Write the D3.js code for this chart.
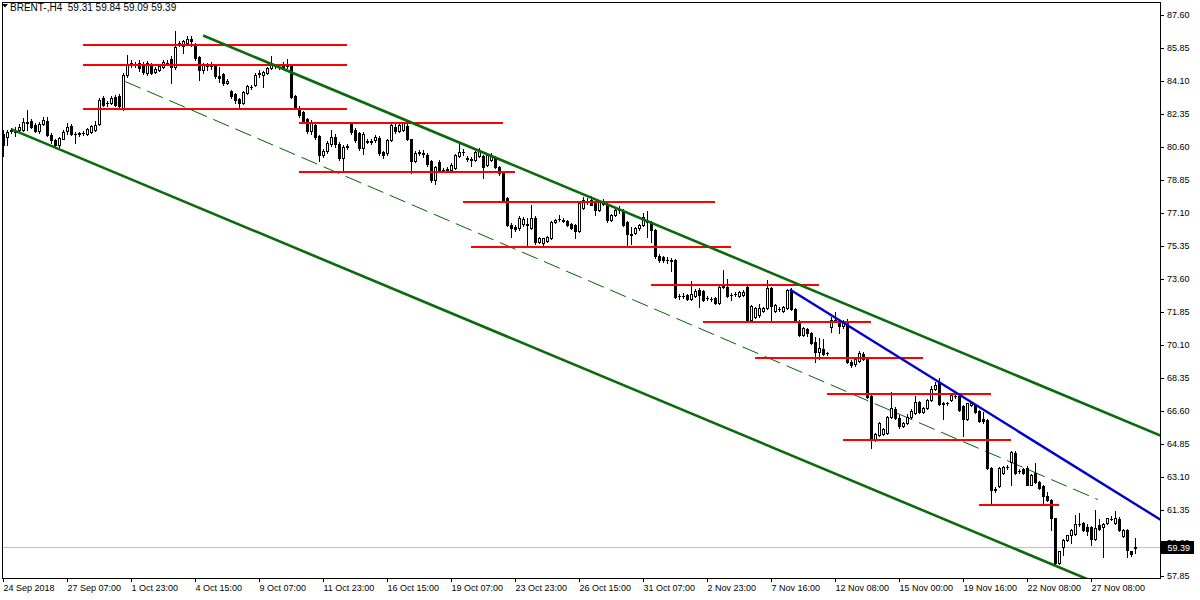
<!DOCTYPE html>
<html><head><meta charset="utf-8">
<script src="https://cdn.jsdelivr.net/npm/d3@7"></script>
<style>
html,body{margin:0;padding:0;background:#fff;}
svg{display:block;}
</style></head>
<body>
<svg id="chart" width="1200" height="600"></svg>
<script>
const symbol = "BRENT-,H4";
const lastOHLC = ["59.31", "59.84", "59.09", "59.39"];

const opens = [
81.3,81.15,81.45,81.45,81.5,81.5,81.95,82.0,81.75,81.45,
81.8,82.0,81.25,80.95,80.7,81.05,81.45,81.7,81.3,81.3,
81.33,81.3,81.4,81.5,81.8,83.2,82.93,82.95,83.25,83.3,
82.65,84.4,85.02,85.0,85.05,84.95,84.5,84.95,84.6,84.7,
84.85,85.03,85.25,84.85,86.08,85.95,86.1,86.35,86.05,85.35,
84.7,84.95,84.9,84.9,84.35,84.45,84.0,83.55,83.4,83.15,
82.95,83.45,83.8,83.9,84.45,84.4,84.5,84.8,84.9,84.85,
85.0,84.9,84.9,83.3,82.67,82.45,82.1,81.45,81.75,81.2,
80.15,80.4,80.75,81.15,80.75,80.0,80.6,81.85,81.5,81.35,
80.55,80.9,80.85,80.95,81.1,80.35,80.3,80.95,81.65,81.45,
81.5,81.7,81.0,79.85,80.3,80.3,80.2,79.85,78.85,79.8,
79.35,79.4,79.4,79.5,80.1,80.35,80.0,79.95,79.9,80.1,
80.1,79.65,79.9,80.0,79.55,79.2,77.9,76.45,76.35,76.3,
76.5,76.5,76.3,76.85,75.55,75.5,75.6,75.75,76.6,76.8,
76.75,76.7,76.5,76.45,76.15,77.35,77.75,77.8,77.7,77.25,
77.6,77.6,76.75,77.0,77.25,77.2,76.6,76.0,76.05,76.3,
76.45,76.65,76.6,76.2,74.8,74.75,74.6,74.55,74.6,72.7,
72.7,72.75,72.55,72.7,73.0,72.95,72.6,72.55,72.6,72.35,
73.2,73.2,72.75,72.8,72.7,72.75,73.2,71.4,71.6,71.7,
71.9,72.05,73.1,71.9,72.0,71.9,72.05,73.0,72.0,71.35,
70.65,70.95,70.75,70.25,69.75,69.9,69.65,71.05,71.45,71.35,
71.1,71.3,69.2,69.1,69.25,69.6,69.35,67.4,65.1,65.35,
65.4,65.45,66.3,66.7,66.25,65.8,65.95,66.3,66.5,67.1,
66.55,66.75,67.2,67.75,68.1,66.95,67.0,67.2,67.4,67.4,
66.85,66.15,66.9,66.9,66.6,66.2,66.1,63.6,62.4,62.6,
63.3,63.65,63.9,64.35,63.4,63.55,63.6,62.7,63.3,62.85,
62.6,62.1,61.9,60.9,58.55,59.4,59.75,60.0,60.1,60.6,
60.65,60.45,60.45,59.8,60.55,60.45,60.65,60.85,60.65,60.85,
59.95,60.3,59.15,59.31];

const highs = [
81.5,81.5,81.6,81.65,81.8,82.14,82.56,82.1,81.85,81.95,
82.2,82.2,81.35,81.0,81.15,81.5,81.85,81.8,81.4,81.4,
81.45,81.6,81.75,82.0,83.2,83.3,83.05,83.3,83.35,83.4,
84.52,85.48,85.2,85.1,85.2,85.1,85.15,85.05,84.85,85.0,
85.2,85.2,85.4,86.77,86.2,86.3,86.5,86.5,86.1,85.4,
85.05,85.05,85.1,85.0,84.85,84.5,84.2,83.6,83.45,83.2,
83.55,83.9,83.9,84.5,84.7,84.65,84.85,85.45,85.0,84.95,
85.1,85.25,85.0,83.35,82.75,82.5,82.15,82.05,81.85,81.25,
80.5,80.9,81.5,81.3,80.85,80.7,80.75,81.95,81.6,81.4,
81.4,81.0,81.0,81.25,81.2,80.4,81.0,81.85,81.8,81.85,
81.95,81.9,81.05,80.4,80.45,80.45,80.3,79.9,79.6,79.9,
79.5,79.55,79.75,80.25,80.8,80.5,80.1,80.05,80.4,80.55,
80.2,80.25,80.3,80.1,79.6,79.25,77.95,76.55,76.45,76.95,
76.9,76.85,77.55,76.95,75.85,75.8,75.9,76.65,76.8,77.0,
76.85,76.75,76.55,76.5,77.7,77.95,77.9,78.0,77.75,77.75,
77.85,77.65,77.05,77.3,77.45,77.3,76.65,76.35,76.35,76.5,
77.1,77.2,76.7,76.25,74.9,74.8,74.75,74.7,74.65,72.8,
72.85,72.8,73.5,73.05,73.1,73.0,72.7,72.65,72.65,73.25,
74.1,73.6,72.85,72.9,72.95,73.0,73.3,72.2,72.1,72.25,
72.1,73.55,73.2,72.25,72.1,72.15,73.05,73.1,72.05,71.4,
71.05,71.0,70.8,70.55,70.45,70.4,69.75,71.6,71.85,71.45,
71.4,71.5,69.3,69.4,69.8,69.75,69.4,67.45,65.45,66.0,
65.7,66.35,67.6,66.8,66.4,66.0,66.45,66.7,67.4,67.15,
66.8,67.25,67.9,68.15,68.35,67.1,67.1,67.55,67.55,67.45,
66.9,67.05,67.1,66.95,66.65,66.55,66.15,63.65,62.55,63.65,
63.7,63.75,64.5,64.5,63.55,63.6,63.7,63.25,63.85,62.9,
62.65,62.3,61.95,60.95,59.2,59.8,60.05,60.35,61.1,61.2,
60.7,60.6,60.5,61.35,60.85,60.65,60.95,61.05,61.3,61.0,
60.35,60.35,59.2,59.84];

const lows = [
80.1,80.7,81.35,81.2,81.4,81.45,81.5,81.6,81.4,81.35,
81.75,81.2,80.8,80.55,80.6,81.0,81.3,81.25,80.8,81.2,
81.25,81.25,81.35,81.45,81.75,82.75,82.8,82.9,82.75,82.6,
82.56,84.3,84.85,84.85,84.65,84.45,84.4,84.45,84.5,84.65,
84.8,84.95,84.01,84.75,85.95,85.6,86.0,85.95,85.2,84.15,
84.55,84.7,84.75,84.25,84.05,83.9,83.95,83.2,82.95,82.7,
82.9,83.4,83.7,83.85,84.3,83.8,84.45,84.75,84.8,84.75,
84.75,84.8,83.2,82.6,82.2,81.9,81.35,81.3,81.05,79.85,
80.05,80.3,80.65,80.6,79.9,79.35,80.5,81.3,80.85,80.45,
80.25,80.8,80.75,80.85,80.2,80.0,80.2,80.9,81.35,81.4,
81.45,80.95,79.2,79.8,80.2,80.05,79.6,78.75,78.65,79.25,
79.25,79.3,79.35,79.45,80.05,80.2,79.85,79.6,79.85,80.05,
78.95,79.6,79.85,79.5,79.1,77.7,76.4,75.85,76.15,76.2,
76.4,75.4,76.25,75.45,75.5,75.3,75.55,75.7,76.55,76.7,
76.6,76.4,76.25,75.75,76.1,77.3,77.6,77.5,77.0,77.2,
77.5,76.6,76.7,76.95,77.1,76.4,75.4,75.45,76.0,76.2,
76.4,75.85,75.55,74.7,74.5,74.5,74.45,74.0,72.6,72.55,
72.6,72.5,72.5,72.65,72.1,72.45,72.5,72.45,72.3,72.3,
73.1,72.65,72.5,72.7,72.65,72.7,71.3,71.35,71.55,71.6,
71.85,72.0,71.45,71.85,71.9,71.85,72.0,71.95,71.3,70.6,
70.6,70.6,70.15,69.2,69.35,69.55,69.55,70.8,71.35,70.75,
71.0,69.15,68.95,69.0,69.2,69.3,67.3,64.65,65.0,65.3,
65.35,65.4,66.25,66.2,65.7,65.75,65.9,66.25,66.45,66.5,
66.5,66.7,67.15,67.7,66.9,66.15,66.9,67.15,67.3,66.6,
65.25,66.1,66.85,66.5,66.0,65.95,63.5,61.7,62.3,62.55,
63.25,63.55,62.7,63.25,63.3,63.25,62.65,62.65,62.8,62.45,
61.6,61.85,60.3,58.45,58.5,58.95,59.7,59.6,60.05,60.5,
60.25,60.0,59.5,59.75,60.3,58.85,60.6,60.8,60.6,60.25,
59.9,58.85,58.9,59.09];

const closes = [
80.7,81.4,81.5,81.4,81.68,81.95,81.85,81.68,81.45,81.8,
82.05,81.25,80.95,80.7,81.1,81.4,81.65,81.3,81.28,81.32,
81.35,81.55,81.7,81.78,83.1,82.85,82.95,83.2,82.85,82.75,
84.4,85.0,85.04,84.98,84.78,84.6,85.05,84.55,84.75,84.9,
85.1,85.05,84.85,85.92,86.1,86.2,86.35,86.2,85.3,84.7,
84.95,84.9,84.95,84.35,84.25,84.0,84.1,83.3,83.1,82.95,
83.5,83.85,83.8,84.4,84.5,84.6,84.8,84.95,84.9,84.85,
84.8,84.9,83.27,82.67,82.3,81.95,81.45,81.95,81.15,80.15,
80.4,80.8,81.15,80.75,80.0,80.6,80.65,81.4,80.95,80.55,
81.3,80.85,80.9,81.15,80.3,80.2,80.95,81.75,81.45,81.75,
81.85,81.0,79.85,80.3,80.35,80.25,79.7,78.85,79.55,79.35,
79.4,79.45,79.65,80.2,80.35,80.35,79.95,79.9,80.35,80.45,
79.55,80.2,80.2,79.55,79.2,77.8,76.45,76.3,76.25,76.85,
76.8,76.45,76.85,75.55,75.8,75.75,75.85,76.6,76.75,76.8,
76.7,76.45,76.3,76.15,77.65,77.8,77.75,77.55,77.25,77.7,
77.75,76.75,77.0,77.25,77.25,76.45,76.0,75.95,76.3,76.45,
76.9,76.6,76.2,74.8,74.6,74.6,74.6,74.6,72.65,72.7,
72.7,72.55,72.8,72.95,72.75,72.5,72.6,72.55,72.35,73.2,
73.25,72.7,72.75,72.8,72.9,72.9,71.35,72.15,72.05,72.05,
72.05,73.1,72.15,72.2,72.0,72.1,73.0,72.0,71.35,70.65,
71.0,70.75,70.2,69.75,69.95,69.6,69.65,71.45,71.45,71.1,
71.3,69.2,69.05,69.35,69.7,69.35,67.35,65.05,65.4,65.95,
65.65,66.3,66.75,66.25,65.8,65.95,66.3,66.6,67.1,66.55,
66.75,67.2,67.75,68.0,66.95,67.0,67.0,67.45,67.4,66.65,
66.15,67.0,67.05,66.55,66.05,66.05,63.6,62.4,62.45,63.6,
63.65,63.65,64.4,63.3,63.42,63.3,62.7,63.2,62.85,62.5,
62.1,61.9,60.9,58.55,59.15,59.75,60.0,60.3,60.6,60.6,
60.3,60.25,59.8,60.4,60.35,60.6,60.9,60.85,60.9,60.3,
60.3,59.25,59.0,59.39];

const priceTicks = [87.60, 85.85, 84.10, 82.35, 80.60, 78.85, 77.10, 75.35, 73.60, 71.85,
                    70.10, 68.35, 66.60, 64.85, 63.10, 61.35, 59.60, 57.85];
const dateLabelBars = [0, 16, 32, 48, 64, 80, 96, 112, 128, 144, 160, 176, 192, 208, 224, 240, 256, 272];
const dateLabels = ["24 Sep 2018", "27 Sep 07:00", "1 Oct 23:00", "4 Oct 15:00", "9 Oct 07:00",
  "11 Oct 23:00", "16 Oct 15:00", "19 Oct 07:00", "23 Oct 23:00", "26 Oct 15:00", "31 Oct 07:00",
  "2 Nov 23:00", "7 Nov 16:00", "12 Nov 08:00", "15 Nov 00:00", "19 Nov 16:00", "22 Nov 08:00", "27 Nov 08:00"];

// horizontal support / resistance levels (price) and their bar spans
const levelPrices = [86.01, 84.96, 82.62, 81.85, 79.27, 77.70, 75.31, 73.28, 71.34, 69.43, 67.52, 65.08, 61.63];
const levelStartBars = [19.9, 19.9, 19.9, 73.9, 73.9, 114.9, 116.9, 162.1, 174.9, 188.1, 205.9, 209.9, 243.9];
const levelEndBars = [86.1, 86.1, 86.1, 124.9, 128.1, 178.1, 182.1, 204.1, 217.1, 230.1, 247.1, 252.1, 264.1];

// trend lines: [barIndex, price]
const channelUpper = [[49.9, 86.54], [289.25, 65.32]];
const channelLower = [[2.05, 81.56], [289.25, 56.09]];
const channelMid = [[30.4, 84.10], [273.6, 61.93]];
const blueTrend = [[196.6, 73.07], [289.25, 60.86]];
const currentPrice = 59.39;

const svg = d3.select("#chart");
const W = 1200, H = 600;
const plot = {left: 2, top: 2, right: 1160, bottom: 578};

const x = d3.scaleLinear().domain([0, 283]).range([3, 1135]);
const y = d3.scaleLinear().domain([57.85, 87.60]).range([576, 15]);
const py = v => Math.round(y(v));

svg.append("rect").attr("width", W).attr("height", H).attr("fill", "#fff");

svg.append("defs").append("clipPath").attr("id", "clip")
  .append("rect").attr("x", plot.left + 1).attr("y", plot.top + 1)
  .attr("width", plot.right - plot.left - 1).attr("height", plot.bottom - plot.top - 1);

const g = svg.append("g").attr("clip-path", "url(#clip)");

// current price line
g.append("line")
  .attr("x1", plot.left).attr("x2", plot.right)
  .attr("y1", py(currentPrice) + 0.5).attr("y2", py(currentPrice) + 0.5)
  .attr("stroke", "#c0c0c0").attr("stroke-width", 1).attr("shape-rendering", "crispEdges");

const line = d3.line().x(d => x(d[0]) + 0.5).y(d => y(d[1]) + 0.5);

// dashed middle line
g.append("path").datum(channelMid).attr("d", line)
  .attr("fill", "none").attr("stroke", "#006400").attr("stroke-width", 1)
  .attr("stroke-dasharray", "17,7");

// candles
const bars = d3.range(opens.length).map(i => ({i, o: opens[i], h: highs[i], l: lows[i], c: closes[i]}));
const cg = g.append("g").attr("shape-rendering", "crispEdges");
bars.forEach(b => {
  const cx = Math.round(x(b.i));
  const yh = py(b.h), yl = py(b.l);
  cg.append("line").attr("x1", cx + 0.5).attr("x2", cx + 0.5)
    .attr("y1", yh).attr("y2", yl + 1).attr("stroke", "#000").attr("stroke-width", 1);
  const top = py(Math.max(b.o, b.c)), bot = py(Math.min(b.o, b.c));
  if (bot - top <= 1) {
    cg.append("rect").attr("x", cx - 1).attr("y", top).attr("width", 3).attr("height", Math.max(1, bot - top + (bot > top ? 1 : 0)))
      .attr("fill", "#000");
  } else if (b.c < b.o) {
    cg.append("rect").attr("x", cx - 1).attr("y", top).attr("width", 3).attr("height", bot - top + 1)
      .attr("fill", "#000");
  } else {
    cg.append("rect").attr("x", cx - 0.5).attr("y", top + 0.5).attr("width", 2).attr("height", bot - top)
      .attr("fill", "#fff").attr("stroke", "#000").attr("stroke-width", 1);
  }
});

// red levels
levelPrices.forEach((p, k) => {
  g.append("rect")
    .attr("x", Math.round(x(levelStartBars[k])))
    .attr("y", py(p) - 1)
    .attr("width", Math.round(x(levelEndBars[k])) - Math.round(x(levelStartBars[k])))
    .attr("height", 2)
    .attr("fill", "#ff0000").attr("shape-rendering", "crispEdges");
});

// channel lines
[channelUpper, channelLower].forEach(seg => {
  g.append("path").datum(seg).attr("d", line)
    .attr("fill", "none").attr("stroke", "#0b6a0b").attr("stroke-width", 2.6);
});
g.append("path").datum(blueTrend).attr("d", line)
  .attr("fill", "none").attr("stroke", "#0000cd").attr("stroke-width", 2.4);

// frame
svg.append("rect").attr("x", plot.left + 0.5).attr("y", plot.top + 0.5)
  .attr("width", plot.right - plot.left).attr("height", plot.bottom - plot.top)
  .attr("fill", "none").attr("stroke", "#000").attr("stroke-width", 1).attr("shape-rendering", "crispEdges");

const fontFam = "'Liberation Sans', Arial, sans-serif";

// right price axis
const yAxis = d3.axisRight(y).tickValues(priceTicks).tickSize(4).tickPadding(3).tickFormat(d3.format(".2f"));
const ya = svg.append("g").attr("transform", `translate(${plot.right},0)`).call(yAxis);
ya.select(".domain").remove();
ya.selectAll("line").attr("stroke", "#000").attr("shape-rendering", "crispEdges");
ya.selectAll("text").attr("font-family", fontFam).attr("font-size", "9px").attr("fill", "#000");

// bottom date axis
const xAxis = d3.axisBottom(x).tickValues(dateLabelBars).tickSize(4).tickFormat((d, i) => dateLabels[i]);
const xa = svg.append("g").attr("transform", `translate(0,${plot.bottom})`).call(xAxis);
xa.select(".domain").remove();
xa.selectAll("line").attr("stroke", "#000").attr("shape-rendering", "crispEdges");
xa.selectAll("text").attr("font-family", fontFam).attr("font-size", "9px").attr("fill", "#000")
  .attr("text-anchor", "start").attr("x", 0).attr("y", 7);

// current price label box
const cpy = py(currentPrice);
svg.append("rect").attr("x", plot.right + 1).attr("y", cpy - 6).attr("width", 33).attr("height", 13)
  .attr("fill", "#000");
svg.append("text").attr("x", plot.right + 7.5).attr("y", cpy + 0.5).attr("dy", "0.35em")
  .attr("font-family", fontFam).attr("font-size", "9px").attr("fill", "#fff").text(currentPrice.toFixed(2));

// header
svg.append("path").attr("d", "M2,4 L8,4 L5,7.5 Z").attr("fill", "#000");
svg.append("text").attr("x", 10).attr("y", 11)
  .attr("font-family", fontFam).attr("font-size", "10px").attr("fill", "#000")
  .attr("xml:space", "preserve")
  .text(symbol + "  " + lastOHLC.join(" "));
</script>
</body></html>
